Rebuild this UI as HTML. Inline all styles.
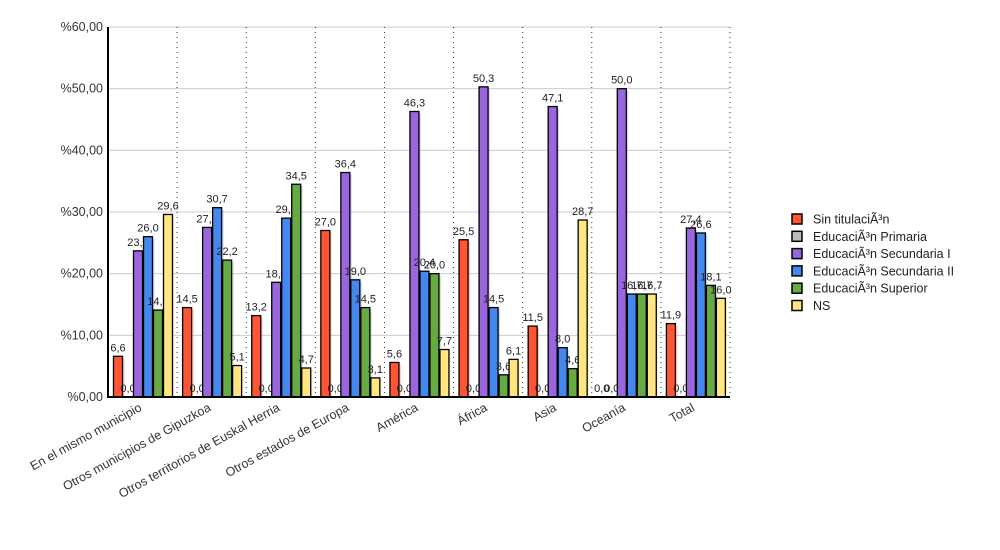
<!DOCTYPE html>
<html><head><meta charset="utf-8"><style>body{margin:0;background:#fff}svg{display:block;font-family:"Liberation Sans",sans-serif}</style></head><body>
<svg width="1000" height="550" xmlns="http://www.w3.org/2000/svg" id="s"></svg>
<script>
const s=document.getElementById('s');
const data=[["En el mismo municipio",[6.6,0,23.7,26.0,14.1,29.6]],["Otros municipios de Gipuzkoa",[14.5,0,27.5,30.7,22.2,5.1]],["Otros territorios de Euskal Herria",[13.2,0,18.6,29.0,34.5,4.7]],["Otros estados de Europa",[27.0,0,36.4,19.0,14.5,3.1]],["América",[5.6,0,46.3,20.4,20.0,7.7]],["África",[25.5,0,50.3,14.5,3.6,6.1]],["Asia",[11.5,0,47.1,8.0,4.6,28.7]],["Oceanía",[0,0,50.0,16.7,16.7,16.7]],["Total",[11.9,0,27.4,26.6,18.1,16.0]]];
const cols=["#ff5533","#bbbbbb","#9966dd","#4488ee","#66aa44","#ffe680"];
const names=["Sin titulaciÃ³n","EducaciÃ³n Primaria","EducaciÃ³n Secundaria I","EducaciÃ³n Secundaria II","EducaciÃ³n Superior","NS"];
const x0=108,gw=(730-108)/9,y0=397,k=370/60;
let h='';
for(let i=0;i<=6;i++){const y=y0-i*10*k;
 if(i>0)h+=`<line x1="${x0}" x2="730" y1="${y}" y2="${y}" stroke="#ccc"/>`;
 h+=`<text x="103" y="${y+4}" font-size="12.5" text-anchor="end" fill="#333">%${i*10},00</text>`;}
for(let g=1;g<=9;g++){const x=x0+g*gw;h+=`<line x1="${x}" x2="${x}" y1="27" y2="${y0}" stroke="#333" stroke-dasharray="1,4"/>`;}
data.forEach((d,g)=>{const gx=x0+g*gw;
 d[1].forEach((v,j)=>{const bx=gx+5.5+j*10,bh=v*k;
  if(v>0){h+=`<rect x="${bx+2}" y="${y0-bh+2}" width="9" height="${bh-2}" fill="${cols[j]}" opacity="0.3"/>`;
  h+=`<rect x="${bx}" y="${y0-bh}" width="9" height="${bh}" fill="${cols[j]}" stroke="#000" stroke-width="1.3"/>`;}
  h+=`<text x="${bx+4.5}" y="${y0-bh-5}" font-size="11" text-anchor="middle" fill="#222">${v.toFixed(1).replace('.',',')}</text>`;});
 const cx=gx+gw/2;
 h+=`<text transform="translate(${cx},${410}) rotate(-29)" font-size="12.5" text-anchor="end" fill="#333">${d[0]}</text>`;});
h+=`<line x1="${x0}" x2="${x0}" y1="27" y2="${y0+1}" stroke="#000" stroke-width="2"/><line x1="${x0-1}" x2="730" y1="${y0}" y2="${y0}" stroke="#000" stroke-width="2"/>`;
names.forEach((n,i)=>{const y=219+i*17.3;
 h+=`<rect x="792" y="${y-5}" width="10" height="10" fill="${cols[i]}" stroke="#000" stroke-width="1.5"/>`;
 h+=`<text x="813" y="${y+4.5}" font-size="12.5" fill="#222">${n}</text>`;});
s.innerHTML=h;
</script>
</body></html>
